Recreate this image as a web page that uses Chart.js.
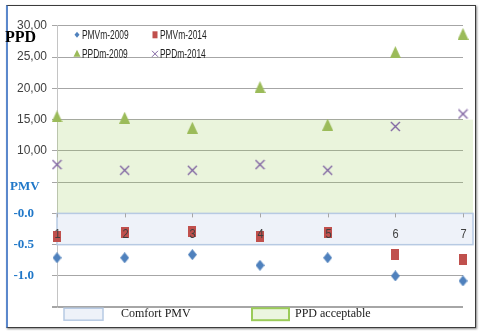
<!DOCTYPE html>
<html>
<head>
<meta charset="utf-8">
<script src="https://cdn.jsdelivr.net/npm/chart.js@4/dist/chart.umd.min.js"></script>
<style>
  html, body { margin: 0; padding: 0; background: #fff; }
  #wrap { position: relative; width: 480px; height: 333px; }
  #frame {
    position: absolute; left: 6px; top: 5px; width: 467px; height: 321px;
    border: 1px solid #3c3c3c; border-left: 2px solid #5b88cc;
    box-shadow: 1px 1px 2px #888;
  }
  canvas { position: absolute; left: 0; top: 0; }
</style>
</head>
<body>
<div id="wrap">
  <div id="frame"></div>
  <canvas id="chart" width="480" height="333"></canvas>
</div>
<script>
// Data
const categories = ['1', '2', '3', '4', '5', '6', '7']
const pmv2009 = [-0.71, -0.71, -0.66, -0.83, -0.71, -1.00, -1.08]
const pmv2014 = [-0.37, -0.31, -0.29, -0.37, -0.31, -0.65, -0.73]
const ppd2009 = [15.5, 15.3, 13.7, 20.2, 14.2, 25.8, 28.7]
const ppd2014 = [7.8, 6.9, 6.9, 7.8, 6.9, 13.9, 15.9]

// Axis ranges and comfort zones
const ppdRange = [0, 30]
const pmvRange = [-1.5, 0]
const ppdAcceptable = [0, 15]
const pmvComfort = [-0.5, 0]

const SANS = "'Liberation Sans', Arial, sans-serif"
const SERIF = "'Liberation Serif', 'Times New Roman', serif"

const COLORS = {
  pmv2009: '#4f81bd',
  pmv2014: '#c0504d',
  ppd2009: '#9bbb59',
  ppd2014: '#8064a2'
}

// Marker images (Excel markers look slightly taller than wide)
function makeMarker(w, h, draw) {
  const c = document.createElement('canvas')
  c.width = w
  c.height = h
  draw(c.getContext('2d'), w, h)
  return c
}

const diamond = makeMarker(9, 11, (ctx, w, h) => {
  ctx.fillStyle = COLORS.pmv2009
  ctx.beginPath()
  ctx.moveTo(w / 2, 0); ctx.lineTo(w, h / 2); ctx.lineTo(w / 2, h); ctx.lineTo(0, h / 2)
  ctx.closePath(); ctx.fill()
})
const square = makeMarker(8, 11, (ctx, w, h) => {
  ctx.fillStyle = COLORS.pmv2014
  ctx.fillRect(0, 0, w, h)
})
const triangle = makeMarker(11, 12, (ctx, w, h) => {
  ctx.fillStyle = COLORS.ppd2009
  ctx.beginPath()
  ctx.moveTo(w / 2, 0); ctx.lineTo(w, h); ctx.lineTo(0, h)
  ctx.closePath(); ctx.fill()
})
const cross = makeMarker(11, 11, (ctx, w, h) => {
  ctx.strokeStyle = COLORS.ppd2014
  ctx.lineWidth = 1.4
  ctx.beginPath()
  ctx.moveTo(1, 1); ctx.lineTo(w - 1, h - 1)
  ctx.moveTo(w - 1, 1); ctx.lineTo(1, h - 1)
  ctx.stroke()
})

const series = (label, data, axis, style) => ({
  label,
  data,
  yAxisID: axis,
  showLine: false,
  pointStyle: style,
  pointRadius: 6,
  pointHoverRadius: 6,
  clip: false
})

// narrow text: plain sans squeezed horizontally
function narrowText(ctx, text, x, y, squeeze) {
  ctx.save()
  ctx.translate(x, y)
  ctx.scale(squeeze, 1)
  ctx.fillText(text, 0, 0)
  ctx.restore()
}

// Bands behind the markers
const bandsPlugin = {
  id: 'bands',
  beforeDatasetsDraw(chart) {
    const { ctx, chartArea, scales } = chart
    const left = chartArea.left
    const right = chartArea.right + 10
    ctx.save()
    // bottom axis line
    const yb = Math.round(scales.yPMV.getPixelForValue(pmvRange[0])) - 0.5
    ctx.strokeStyle = '#a6a6a6'
    ctx.lineWidth = 1
    ctx.beginPath()
    ctx.moveTo(left - 5, yb)
    ctx.lineTo(chartArea.right, yb)
    ctx.stroke()
    // PPD acceptable
    const gTop = scales.yPPD.getPixelForValue(ppdAcceptable[1])
    const gBot = scales.yPPD.getPixelForValue(ppdAcceptable[0])
    ctx.fillStyle = 'rgba(155, 205, 90, 0.21)'
    ctx.fillRect(left, gTop, right - left, gBot - gTop)
    // Comfort PMV
    const bTop = scales.yPMV.getPixelForValue(pmvComfort[1])
    const bBot = scales.yPMV.getPixelForValue(pmvComfort[0])
    ctx.fillStyle = '#eef2f9'
    ctx.fillRect(left, bTop, right - left, bBot - bTop)
    ctx.strokeStyle = '#b7cae3'
    ctx.lineWidth = 1.5
    ctx.strokeRect(left, bTop, right - left, bBot - bTop)
    ctx.restore()
  }
}

// Category labels on the zero line, legends and titles
const decorPlugin = {
  id: 'decor',
  afterDatasetsDraw(chart) {
    const { ctx, chartArea, scales } = chart
    const zeroY = scales.yPMV.getPixelForValue(0)
    ctx.save()

    // x tick marks + labels, drawn over the markers
    ctx.strokeStyle = '#a6a6a6'
    ctx.lineWidth = 1
    ctx.fillStyle = '#404040'
    ctx.font = '13px ' + SANS
    ctx.textAlign = 'center'
    ctx.textBaseline = 'middle'
    categories.forEach((label, i) => {
      const x = Math.round(scales.x.getPixelForValue(i)) + 0.5
      ctx.beginPath()
      ctx.moveTo(x, zeroY)
      ctx.lineTo(x, zeroY + 4)
      ctx.stroke()
      narrowText(ctx, label, x, zeroY + 21, 0.85)
    })

    // top legend
    const legendItems = [
      { text: 'PMVm-2009', marker: 'diamond', col: 0, row: 0 },
      { text: 'PMVm-2014', marker: 'square', col: 1, row: 0 },
      { text: 'PPDm-2009', marker: 'triangle', col: 0, row: 1 },
      { text: 'PPDm-2014', marker: 'cross', col: 1, row: 1 }
    ]
    ctx.font = '12px ' + SANS
    ctx.textAlign = 'left'
    ctx.fillStyle = '#1f1f1f'
    legendItems.forEach(item => {
      const mx = chartArea.left + 20 + item.col * 78
      const my = chartArea.top + 9 + item.row * 19
      ctx.save()
      if (item.marker === 'diamond') {
        ctx.fillStyle = COLORS.pmv2009
        ctx.beginPath()
        ctx.moveTo(mx, my - 3); ctx.lineTo(mx + 2.5, my); ctx.lineTo(mx, my + 3); ctx.lineTo(mx - 2.5, my)
        ctx.closePath(); ctx.fill()
      } else if (item.marker === 'square') {
        ctx.fillStyle = COLORS.pmv2014
        ctx.fillRect(mx - 2.5, my - 3.5, 5, 7)
      } else if (item.marker === 'triangle') {
        ctx.fillStyle = COLORS.ppd2009
        ctx.beginPath()
        ctx.moveTo(mx, my - 4); ctx.lineTo(mx + 3.5, my + 3); ctx.lineTo(mx - 3.5, my + 3)
        ctx.closePath(); ctx.fill()
      } else {
        ctx.strokeStyle = COLORS.ppd2014
        ctx.lineWidth = 1
        ctx.beginPath()
        ctx.moveTo(mx - 3, my - 3); ctx.lineTo(mx + 3, my + 3)
        ctx.moveTo(mx + 3, my - 3); ctx.lineTo(mx - 3, my + 3)
        ctx.stroke()
      }
      ctx.restore()
      narrowText(ctx, item.text, mx + 5, my + 1, 0.7)
    })

    // bottom legend
    const ly = chartArea.bottom + 1
    ctx.fillStyle = '#eef2f9'
    ctx.fillRect(64, ly, 39, 12)
    ctx.strokeStyle = '#b7cae3'
    ctx.lineWidth = 1.5
    ctx.strokeRect(64, ly, 39, 12)
    ctx.fillStyle = '#ebf5df'
    ctx.fillRect(252, ly, 37, 12)
    ctx.strokeStyle = '#9bcb59'
    ctx.lineWidth = 2
    ctx.strokeRect(252, ly, 37, 12)
    ctx.fillStyle = '#1a1a1a'
    ctx.font = '12px ' + SERIF
    ctx.fillText('Comfort PMV', 121, ly + 6)
    ctx.fillText('PPD acceptable', 295, ly + 6)

    // axis titles
    ctx.font = 'bold 16px ' + SERIF
    ctx.fillStyle = '#000'
    ctx.fillText('PPD', 5, scales.yPPD.getPixelForValue(28.1))
    ctx.font = 'bold 13px ' + SERIF
    ctx.fillStyle = '#1f77c8'
    ctx.fillText('PMV', 10, scales.yPPD.getPixelForValue(4.3))

    ctx.restore()
  }
}

const fixWidth = scale => { scale.width = 50 }

new Chart(document.getElementById('chart'), {
  type: 'line',
  data: {
    labels: categories,
    datasets: [
      series('PMVm-2009', pmv2009, 'yPMV', diamond),
      series('PMVm-2014', pmv2014, 'yPMV', square),
      series('PPDm-2009', ppd2009, 'yPPD', triangle),
      series('PPDm-2014', ppd2014, 'yPPD', cross)
    ]
  },
  options: {
    responsive: false,
    animation: false,
    layout: { padding: { left: 7, right: 17, top: 20, bottom: 24 } },
    plugins: {
      legend: { display: false },
      tooltip: { enabled: false }
    },
    scales: {
      x: {
        type: 'category',
        display: false,
        offset: false
      },
      // stacked axes are laid out bottom-up, so PMV comes first
      yPMV: {
        type: 'linear',
        position: 'left',
        stack: 'v',
        stackWeight: 3,
        min: pmvRange[0],
        max: pmvRange[1],
        afterFit: fixWidth,
        border: { color: '#c4c4c4' },
        grid: { color: '#a6a6a6', tickLength: 5 },
        ticks: {
          stepSize: 0.5,
          autoSkip: false,
          padding: 18,
          color: '#1f77c8',
          font: { family: SERIF, size: 13, weight: 'bold' },
          callback: v => (v <= pmvRange[0] ? '' : v === 0 ? '-0.0' : v.toFixed(1))
        }
      },
      yPPD: {
        type: 'linear',
        position: 'left',
        stack: 'v',
        stackWeight: 6,
        min: ppdRange[0],
        max: ppdRange[1],
        afterFit: fixWidth,
        border: { color: '#c4c4c4' },
        grid: { color: '#a6a6a6', tickLength: 5 },
        ticks: {
          stepSize: 5,
          autoSkip: false,
          padding: 5,
          color: '#404040',
          font: { family: SANS, size: 12 },
          callback: v => (v >= 10 ? v.toFixed(2).replace('.', ',') : '')
        }
      }
    }
  },
  plugins: [bandsPlugin, decorPlugin]
})
</script>
</body>
</html>
